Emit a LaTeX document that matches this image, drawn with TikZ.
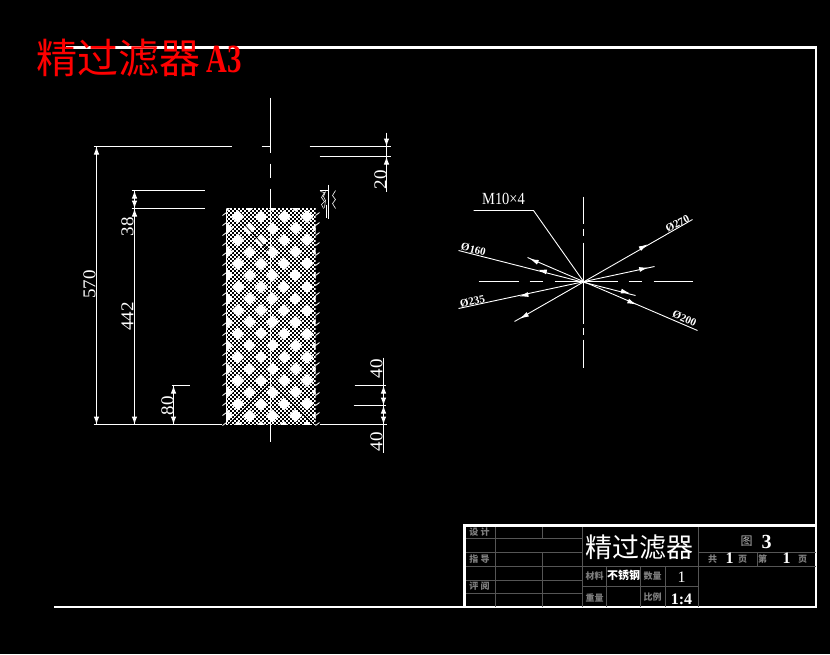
\documentclass[tikz,border=0pt]{standalone}
\usepackage{fontspec}
\setmainfont{Liberation Serif}
\newfontfamily\cjk{Noto Sans CJK SC}
\usetikzlibrary{arrows.meta}

\definecolor{gridgrey}{HTML}{555555}
\definecolor{labelgrey}{HTML}{808080}

\tikzset{
	frameline/.style={draw=white,line width=2.6pt},
	thin line/.style={draw=white,line width=1pt},
	leader/.style={draw=white,line width=.9pt},
	gridline/.style={draw=gridgrey,line width=1pt},
	arrowline/.style={draw=white,line width=1pt,-{Latex[length=8pt,width=5.5pt]}},
	holearrow/.style={draw=white,line width=.9pt,-{Latex[length=9pt,width=5pt]}},
	dimtext/.style={text=white,font=\fontsize{19}{19}\selectfont,inner sep=0pt,xscale=.95},
	holetext/.style={text=white,font=\fontsize{11}{11}\selectfont\bfseries,inner sep=0pt},
	greytext/.style={text=labelgrey,font=\cjk\fontsize{9}{9}\selectfont\bfseries,inner sep=0pt},
	valuetext/.style={text=white,font=\fontsize{16}{16}\selectfont,inner sep=0pt},
}

\begin{document}
\begin{tikzpicture}[x=1pt,y=-1pt]
	\fill[black] (0,0) rectangle (830,654);
	\useasboundingbox (0,0) rectangle (830,654);

	\begin{scope}[shift={(.5,.5)}]
	% sheet frame
	\draw[frameline] (65,47) -- (815.5,47) -- (815.5,606.5) -- (53.5,606.5);
	\node[text=red,font=\cjk\fontsize{41}{41}\selectfont,inner sep=0pt] (sheettitle) at (118,58) {精过滤器};
	\node[text=red,font=\fontsize{40}{40}\selectfont\bfseries,inner sep=0pt,xscale=.72] (sheetsize) at (224,59) {A3};

	% mesh body
	\begin{scope}
		\clip (226,208) rectangle (315,424);
		\foreach \row in {0,...,108}{
			\pgfmathtruncatemacro{\oddline}{mod(\row,2)}
			\draw[white,line width=2pt,dash pattern=on 2pt off 2pt,dash phase=\oddline*2pt] (225.5,208.5+2*\row) -- (316,208.5+2*\row);
		}
		\foreach \col in {-3,...,6}
			\foreach \row in {-12,...,8}{
				\pgfmathtruncatemacro{\oddrow}{mod(abs(\col+\row),2)}
				\ifnum\oddrow=0
					\fill[white] ({249+\col*11.5-6.4},{345+\row*11.7}) -- ({249+\col*11.5},{345+\row*11.7-6.4}) -- ({249+\col*11.5+6.4},{345+\row*11.7}) -- ({249+\col*11.5},{345+\row*11.7+6.4}) -- cycle;
				\fi
			}
		\draw[black,line width=.7pt] (270,382) -- (228,424) (270,382) -- (313,424) (240,220) -- (268,250);
		\draw[white,line width=.8pt] (270,208) -- (270,424);
	\end{scope}
	\draw[white,line width=1pt] (226,208) -- (226,424);
	\foreach \y in {212,222,...,422}{
		\draw[white,line width=.8pt] (222,\y+3) -- (226,\y);
		\draw[white,line width=.8pt] (315,\y+3) -- (319,\y);
	}

	% centre lines
	\draw[thin line] (270,97) -- (270,152) (270,163) -- (270,177) (270,188) -- (270,208) (270,424) -- (270,441);

	% extension lines
	\draw[thin line] (93,146) -- (231,146) (261,146) -- (270,146) (309,146) -- (390,146);
	\draw[thin line] (319,156) -- (390,156);
	\draw[thin line] (131,190) -- (204,190) (131,208) -- (204,208);
	\draw[thin line] (93,424) -- (221,424) (319,424) -- (386,424);
	\draw[thin line] (171,385) -- (189,385);
	\draw[thin line] (354,385) -- (385,385) (353,405) -- (385,405);

	% dimension lines
	\draw[thin line] (96,146) -- (96,424);
	\draw[thin line] (134,190) -- (134,424);
	\draw[thin line] (173,385) -- (173,424);
	\draw[thin line] (386,132) -- (386,191);
	\draw[thin line] (383,357) -- (383,452);
	\foreach \xa/\ya/\yb in {96/154/146,96/416/424,134/198/190,134/200/208,134/216/208,134/416/424,173/393/385,173/416/424,386/138/146,386/164/156,383/393/385,383/397/405,383/413/405,383/416/424}
		\draw[arrowline] (\xa,\ya) -- (\xa,\yb);

	\node[dimtext,rotate=90] (dimtotal) at (89,284) {570};
	\node[dimtext,rotate=90] (dimgap) at (127,226) {38};
	\node[dimtext,rotate=90] (dimmesh) at (127,316) {442};
	\node[dimtext,rotate=90] (dimfoot) at (167,405) {80};
	\node[dimtext,rotate=90] (dimtop) at (380,179) {20};
	\node[dimtext,rotate=90] (dimupper) at (376,368) {40};
	\node[dimtext,rotate=90] (dimlower) at (376,441) {40};

	% thread mark
	\draw[white,line width=1pt] (328,184) -- (328,218) (326,204) -- (326,217) (319,190) -- (328,190);
	\draw[white,line width=.6pt] (320,191) -- (324,192) -- (321,197) -- (324,201) -- (321,204) -- (323,208);
	\draw[white,line width=.6pt] (325,191) -- (323,196) -- (325,200) -- (324,207);
	\draw[white,line width=.6pt] (335,190) -- (332,195) -- (335,199) -- (332,203) -- (335,208);

	% hole pattern
	\coordinate (hub) at (583,281);
	\draw[thin line] (583,196) -- (583,223) (583,228) -- (583,235) (583,242) -- (583,323) (583,327) -- (583,334) (583,339) -- (583,367);
	\draw[thin line] (478,281) -- (518,281) (529,281) -- (542,281) (554,281) -- (617,281) (628,281) -- (641,281) (653,281) -- (692,281);
	\coordinate (threadknee) at (533,210);
	\coordinate (threadend) at (473,210);
	\draw[leader] (threadend) -- (threadknee) -- (hub);
	\node[text=white,font=\fontsize{17}{17}\selectfont,inner sep=0pt,xscale=.85] (threadlabel) at (503,198) {M10×4};
	\draw[leader] (458,250) -- (635,295);
	\draw[leader] (527,257) -- (697,330);
	\draw[leader] (458,308) -- (654,266);
	\draw[leader] (514,321) -- (692,219);
	\foreach \xa/\ya/\xb/\yb in {546.1/271.4/537.3/269.2,620.6/290.6/629.4/292.8,537.4/261.8/529.2/258.2,627.6/300.5/635.8/304.1,527.7/294/518.9/296,638.9/269/647.7/267,639.4/248.2/647.2/243.8,527.2/313.8/519.4/318.2}
		\draw[holearrow] (\xa,\ya) -- (\xb,\yb);
	\node[holetext,rotate=-14] (holea) at (473,249) {Ø160};
	\node[holetext,rotate=12] (holeb) at (472,301) {Ø235};
	\node[holetext,rotate=-24] (holec) at (684,318) {Ø200};
	\node[holetext,rotate=27] (holed) at (677,223) {Ø270};

	% title block
	\draw[gridline] (464,538) -- (582,538) (464,552) -- (582,552) (464,566) -- (815,566) (464,580) -- (582,580) (464,593) -- (582,593);
	\draw[gridline] (495,525) -- (495,606) (542,525) -- (542,538) (542,552) -- (542,606) (582,525) -- (582,606);
	\draw[gridline] (698,525) -- (698,606) (698,552) -- (815,552) (757,552) -- (757,566);
	\draw[gridline] (582,586) -- (698,586) (606,566) -- (606,606) (640,566) -- (640,606) (665,566) -- (665,606);
	\draw[frameline] (464,606.5) -- (464,525) -- (815.5,525);

	\node[greytext] (designcell) at (479,532) {设 计};
	\node[greytext] (guidecell) at (479,559) {指 导};
	\node[greytext] (reviewcell) at (479,586) {评 阅};
	\node[greytext] (materialcell) at (594,576) {材料};
	\node[greytext] (weightcell) at (594,597) {重量};
	\node[greytext] (countcell) at (652,576) {数量};
	\node[greytext] (ratiocell) at (652,597) {比例};
	\node[greytext] (totalcell) at (712,559) {共};
	\node[greytext] (pagea) at (742,559) {页};
	\node[greytext] (ordercell) at (762,559) {第};
	\node[greytext] (pageb) at (802,559) {页};
	\node[text=white,font=\cjk\fontsize{27}{27}\selectfont,inner sep=0pt] (drawingname) at (639,547) {精过滤器};
	\node[text=white,font=\cjk\fontsize{11}{11}\selectfont\bfseries,inner sep=0pt] (steel) at (623,575) {不锈钢};
	\node[text=labelgrey!60!white,font=\cjk\fontsize{12}{12}\selectfont,inner sep=0pt] (sheetword) at (746,541) {图};
	\node[text=white,font=\fontsize{20}{20}\selectfont\bfseries,inner sep=0pt] (sheetno) at (766,541) {3};
	\node[valuetext,font=\fontsize{16}{16}\selectfont\bfseries] (pagecount) at (729,558) {1};
	\node[valuetext,font=\fontsize{16}{16}\selectfont\bfseries] (pageorder) at (786,558) {1};
	\node[valuetext] (countvalue) at (681,577) {1};
	\node[valuetext,font=\fontsize{16}{16}\selectfont\bfseries] (ratiovalue) at (681,599) {1:4};
	\end{scope}
\end{tikzpicture}
\end{document}
